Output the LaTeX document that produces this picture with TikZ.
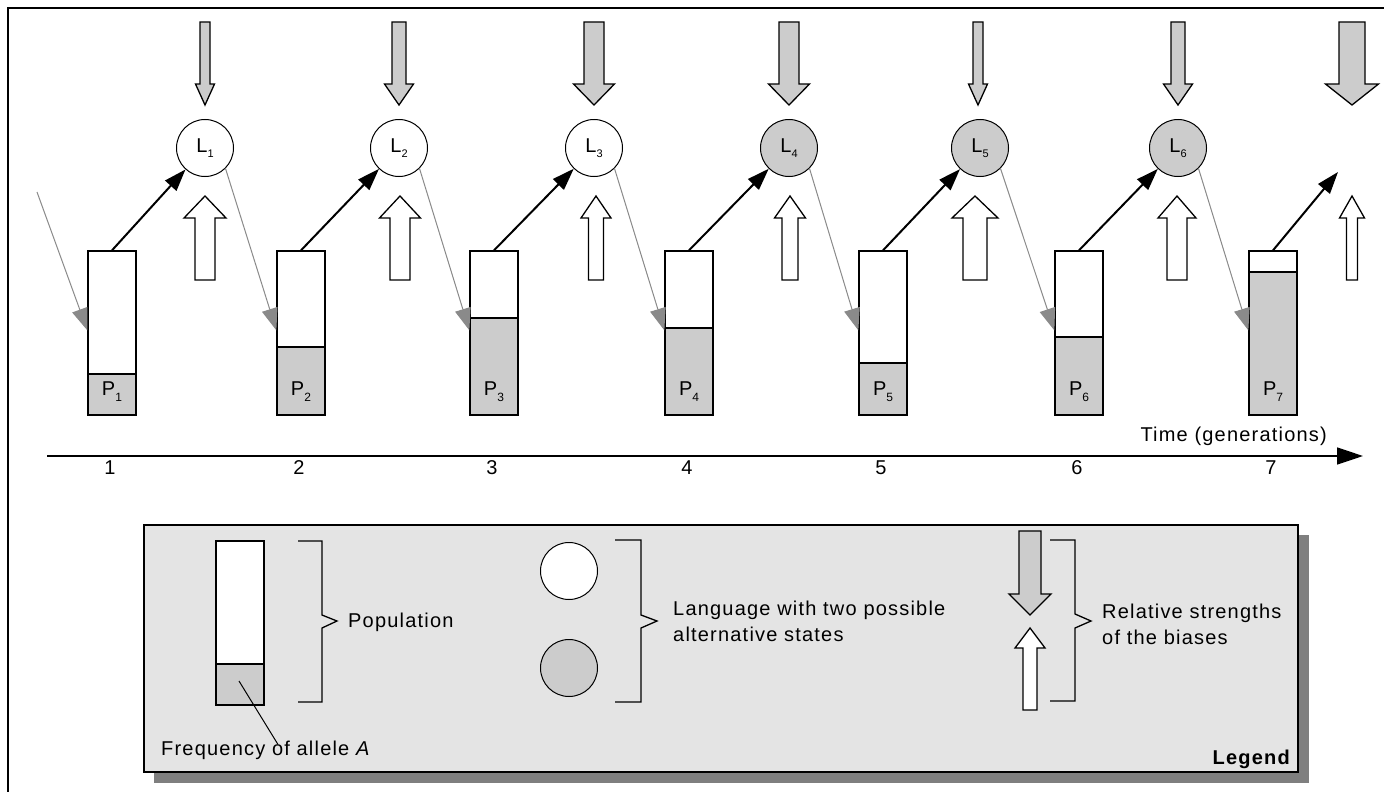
\documentclass[tikz,border=0pt]{standalone}
\usepackage{fontspec}
\setmainfont{Liberation Sans}[LetterSpace=6]
\usetikzlibrary{arrows.meta,calc}
\definecolor{shadegray}{HTML}{CCCCCC}
\definecolor{legbg}{HTML}{E4E4E4}
\definecolor{shadowgray}{HTML}{7F7F7F}
\definecolor{linegray}{HTML}{8A8A8A}
\newcommand{\biasarrow}[7]{%
  \draw[#1] ({#2-#3},#5) -- ({#2+#3},#5) -- ({#2+#3},#6) -- ({#2+#4},#6) -- (#2,#7) -- ({#2-#4},#6) -- ({#2-#3},#6) -- cycle;}
\newcommand{\lsub}[1]{\raisebox{-5pt}{\fontsize{11}{11}\selectfont #1}}
\newcommand{\psub}[1]{\raisebox{-6pt}{\fontsize{12}{12}\selectfont #1}}
\begin{document}
\begin{tikzpicture}[x=1pt,y=-1pt,font=\fontsize{20}{24}\selectfont,
  popbox/.style={draw=black,fill=white,line width=1.3pt,minimum width=48pt,minimum height=164pt,inner sep=0pt},
  popshade/.style={draw=black,fill=shadegray,line width=1.3pt},
  lang/.style={circle,draw=black,line width=1pt,minimum size=57pt,inner sep=0pt,font=\fontsize{20}{20}\selectfont},
  biasdn/.style={draw=black,fill=shadegray,line width=1.3pt},
  biasup/.style={draw=black,fill=white,line width=1.3pt},
  popl/.style={draw=black,line width=2pt,-{Triangle[length=22pt,width=15pt]}},
  inh/.style={draw=linegray,line width=1pt,-{Triangle[length=22pt,width=16pt]}},
  brack/.style={draw=black,line width=1.3pt},
  txt/.style={inner sep=0pt}]

\useasboundingbox (0,0) rectangle (1384,792);
\fill[white] (0,0) rectangle (1384,792);
\draw[line width=2pt] (8,792) -- (8,8) -- (1384,8);

% populations
\foreach \i/\x/\s in {1/112/374,2/301/347,3/494/318,4/689/328,5/883/363,6/1079/337,7/1273/272} {
  \node[popbox] (P\i) at (\x,333) {};
  \draw[popshade] ({\x-24},415) rectangle ({\x+24},\s);
  \node[txt] (PL\i) at (\x,392) {P\psub{\i}};
}

% languages
\foreach \i/\x/\f in {1/205/white,2/399/white,3/594/white,4/789/shadegray,5/980/shadegray,6/1178/shadegray}
  \node[lang,fill=\f] (L\i) at (\x,148) {L\lsub{\i}};

% population -> language
\foreach \i in {1,...,6} \draw[popl] (P\i.north) -- (L\i);
\coordinate (L7end) at (1338,172);
\draw[popl] (P7.north) -- (L7end);

% language -> next population
\coordinate (g0) at (37,192);
\draw[inh] (g0) -- ($(P1.north west)+(0,80)$);
\foreach \i/\j in {1/2,2/3,3/4,4/5,5/6,6/7}
  \draw[inh] (L\i.-45) -- ($(P\j.north west)+(0,80)$);

% biases
\biasarrow{biasdn}{205}{5}{9.5}{22}{84}{105}
\biasarrow{biasdn}{399}{7}{14.5}{22}{84}{105}
\biasarrow{biasdn}{594}{10}{20.5}{22}{84}{105}
\biasarrow{biasdn}{789}{10}{20.5}{22}{84}{105}
\biasarrow{biasdn}{978}{5}{9.5}{22}{84}{105}
\biasarrow{biasdn}{1178}{7}{14.5}{22}{84}{105}
\biasarrow{biasdn}{1352}{13}{26.5}{22}{84}{105}
\biasarrow{biasup}{205}{10}{21}{280}{218}{196}
\biasarrow{biasup}{400}{10}{20.5}{280}{218}{196}
\biasarrow{biasup}{596}{7.5}{15}{280}{218}{196}
\biasarrow{biasup}{790}{8}{15.5}{280}{218}{196}
\biasarrow{biasup}{975}{12}{23}{280}{218}{196}
\biasarrow{biasup}{1177}{10}{19}{280}{218}{196}
\biasarrow{biasup}{1352}{5.5}{12.5}{280}{218}{196}

% time axis
\coordinate (ax0) at (47,456);
\coordinate (ax1) at (1363,456);
\draw[line width=1.5pt,-{Triangle[length=26pt,width=17pt]}] (ax0) -- (ax1);
\foreach \i/\x in {1/110,2/299,3/492,4/687,5/881,6/1077,7/1271}
  \node[txt] (T\i) at (\x,468) {\i};
\node[txt,anchor=base east] (time) at (1327,441) {Time (generations)};

% legend
\fill[shadowgray] (154,535) rectangle (1309,783);
\draw[fill=legbg,line width=1.3pt] (144,525) rectangle (1298,772);
\node[popbox] (LP) at (240,623) {};
\draw[popshade] (216,664) rectangle (264,705);
\draw[brack] (298,541) -- (322,541) -- (322,615) -- (337,621) -- (322,628) -- (322,702) -- (298,702);
\node[txt,anchor=west] (pop) at (348,622) {Population};
\node[lang,fill=white] (LW) at (569,571) {};
\node[lang,fill=shadegray] (LG) at (569,668) {};
\draw[brack] (615,540) -- (641,540) -- (641,615) -- (657,621) -- (641,628) -- (641,702) -- (615,702);
\node[txt,anchor=west,align=left,font=\fontsize{20}{26}\selectfont] (langtxt) at (673,621) {Language with two possible\\alternative states};
\biasarrow{biasdn}{1030}{11}{21}{531}{594}{615}
\biasarrow{biasup}{1030}{7}{15}{710}{648}{628}
\draw[brack] (1050,540) -- (1075,540) -- (1075,614) -- (1091,621) -- (1075,628) -- (1075,701) -- (1050,701);
\node[txt,anchor=west,align=left,font=\fontsize{20}{26}\selectfont] (reltxt) at (1102,624) {Relative strengths\\of the biases};
\node[txt,anchor=west] (freq) at (161,750) {Frequency of allele \textit{A}};
\coordinate (fq) at (239,681);
\draw[line width=1pt] (fq) -- ($(freq.north west)+(117,4)$);
\node[txt,anchor=base east,font=\fontsize{20}{24}\selectfont\bfseries] (leg) at (1290,764) {Legend};
\end{tikzpicture}
\end{document}
